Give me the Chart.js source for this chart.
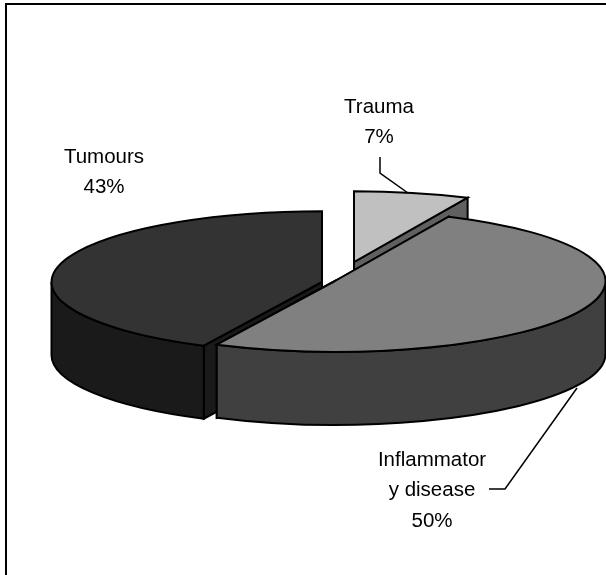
<!DOCTYPE html>
<html lang="en">
  <head>
    <meta charset="UTF-8" />
    <title>Pie chart</title>
    <script src="https://cdn.jsdelivr.net/npm/chart.js"></script>
    <style>
      html,
      body {
        margin: 0;
        overflow: hidden;
        background-color: #fff;
      }
      #frame {
        position: absolute;
        left: 5px;
        top: 3px;
        width: 601px;
        height: 572px;
        border-left: 2px solid #000;
        border-top: 2px solid #000;
        box-sizing: border-box;
      }
      #pie {
        position: absolute;
        left: 0;
        top: 0;
      }
    </style>
  </head>

  <body>
    <div id="frame"></div>
    <canvas id="pie" width="606" height="575" style="width: 606px; height: 575px"></canvas>

    <script>
      const categories = ["Trauma", "Inflammatory disease", "Tumours"];
      const percents = [6.9, 50.3, 42.8];
      const topColors = ["#c0c0c0", "#808080", "#333333"];
      const wallColors = ["#606060", "#404040", "#1a1a1a"];

      // how far each slice is pulled out of the pie, in pixels
      const sliceShift = [
        [19, -19],
        [0, 0],
        [-13, 1],
      ];

      // text and leader lines, in page pixels
      const labelLines = [
        { lines: ["Trauma", "7%"], x: 379, y: 107 },
        { lines: ["Inflammator", "y disease", "50%"], x: 432, y: 460 },
        { lines: ["Tumours", "43%"], x: 104, y: 157 },
      ];
      const leaders = [
        [[380, 157], [380, 173], [408, 193]],
        [[489, 489], [505, 489], [577, 388]],
      ];

      const squash = 0.262;
      const depth = 73;

      function drawFace(ctx, c, ry, arc, angle, color) {
        const ex = c.x + Math.cos(angle) * arc.outerRadius;
        const ey = c.y + Math.sin(angle) * ry;
        ctx.beginPath();
        ctx.moveTo(c.x, c.y);
        ctx.lineTo(ex, ey);
        ctx.lineTo(ex, ey + depth);
        ctx.lineTo(c.x, c.y + depth);
        ctx.closePath();
        ctx.fillStyle = color;
        ctx.fill();
        ctx.stroke();
      }

      function drawWall(ctx, c, ry, arc, color) {
        // only the part of the rim on the near side shows
        const from = Math.max(arc.startAngle, 0);
        const to = Math.min(arc.endAngle, Math.PI);
        if (to <= from) return;
        ctx.beginPath();
        ctx.ellipse(c.x, c.y, arc.outerRadius, ry, 0, from, to);
        ctx.ellipse(c.x, c.y + depth, arc.outerRadius, ry, 0, to, from, true);
        ctx.closePath();
        ctx.fillStyle = color;
        ctx.fill();
        ctx.stroke();
      }

      function drawTop(ctx, c, ry, arc, color) {
        ctx.beginPath();
        ctx.moveTo(c.x, c.y);
        ctx.ellipse(c.x, c.y, arc.outerRadius, ry, 0, arc.startAngle, arc.endAngle);
        ctx.closePath();
        ctx.fillStyle = color;
        ctx.fill();
        ctx.stroke();
      }

      // the library does the angles and radius, this tilts them into a 3D pie
      const tiltedPie = {
        id: "tiltedPie",
        beforeDatasetDraw(chart) {
          const ctx = chart.ctx;
          const arcs = chart.getDatasetMeta(0).data;
          ctx.save();
          ctx.strokeStyle = "#000";
          ctx.lineWidth = 2;
          // back to front
          [0, 2, 1].forEach((i) => {
            const arc = arcs[i];
            const c = { x: arc.x + sliceShift[i][0], y: arc.y + sliceShift[i][1] };
            const ry = arc.outerRadius * squash;
            drawFace(ctx, c, ry, arc, arc.startAngle, wallColors[i]);
            drawFace(ctx, c, ry, arc, arc.endAngle, wallColors[i]);
            drawWall(ctx, c, ry, arc, wallColors[i]);
            drawTop(ctx, c, ry, arc, topColors[i]);
          });
          ctx.restore();
          return false;
        },
        afterDraw(chart) {
          const ctx = chart.ctx;
          ctx.save();
          ctx.strokeStyle = "#000";
          ctx.lineWidth = 1.5;
          leaders.forEach((pts) => {
            ctx.beginPath();
            pts.forEach((p, k) => (k ? ctx.lineTo(p[0], p[1]) : ctx.moveTo(p[0], p[1])));
            ctx.stroke();
          });
          ctx.fillStyle = "#000";
          ctx.font = '20.5px "Liberation Sans", Arial, sans-serif';
          ctx.textAlign = "center";
          ctx.textBaseline = "middle";
          labelLines.forEach((l) => {
            l.lines.forEach((t, k) => ctx.fillText(t, l.x, l.y + k * 30.5));
          });
          ctx.restore();
        },
      };

      new Chart(document.getElementById("pie").getContext("2d"), {
        type: "pie",
        data: {
          labels: categories,
          datasets: [{ data: percents, backgroundColor: topColors }],
        },
        options: {
          responsive: false,
          animation: false,
          radius: 270.5,
          layout: { padding: { left: 64, bottom: 13 } },
          plugins: { legend: { display: false }, tooltip: { enabled: false } },
        },
        plugins: [tiltedPie],
      });
    </script>
  </body>
</html>
